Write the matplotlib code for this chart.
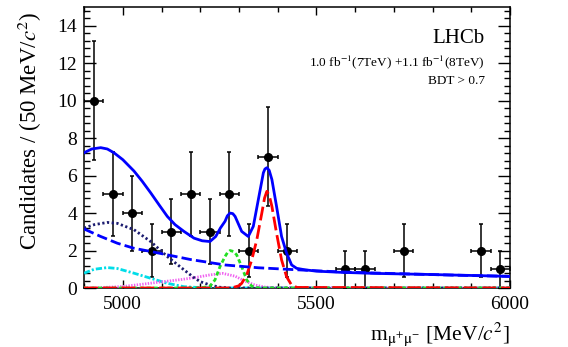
import numpy as np
import matplotlib
matplotlib.use('Agg')
import matplotlib.pyplot as plt
from matplotlib.ticker import MultipleLocator

plt.rcParams['font.family'] = ['Liberation Serif', 'DejaVu Serif']
plt.rcParams['mathtext.fontset'] = 'stix'
plt.rcParams['lines.scale_dashes'] = False

# data points (bin centres, 50 MeV bins)
centers = [4925, 4975, 5025, 5075, 5125, 5175, 5225, 5275, 5325, 5375, 5425, 5575, 5625, 5725, 5925, 5975]
counts = [10, 5, 4, 2, 3, 5, 3, 5, 2, 7, 2, 1, 1, 2, 2, 1]

# total fit (blue solid)
m_tot = [4900, 4920, 4943, 4960, 4977, 5000, 5029, 5050, 5072, 5095, 5115, 5135, 5158, 5184,
         5205, 5225, 5240, 5252, 5264, 5270, 5277, 5284, 5290, 5307, 5324, 5337, 5350, 5363,
         5367, 5372, 5378, 5385, 5397, 5410, 5423, 5436, 5449, 5471, 5500, 5560, 5650, 5775,
         5900, 6000]
y_tot = [7.22, 7.42, 7.49, 7.42, 7.22, 6.85, 6.24, 5.7, 5.08, 4.4, 3.82, 3.38, 3.02, 2.66,
         2.52, 2.48, 2.75, 3.2, 3.56, 3.85, 4.0, 3.97, 3.82, 3.02, 2.75, 3.29, 4.72, 6.15,
         6.35, 6.42, 6.28, 5.79, 4.36, 2.75, 1.86, 1.23, 1.05, 0.97, 0.9, 0.84, 0.78, 0.73,
         0.67, 0.62]

# combinatorial (blue dashed)
m_comb = [4900, 4943, 4986, 5029, 5072, 5115, 5175, 5264, 5350, 5471, 5560, 5700, 5850, 6000]
y_comb = [3.15, 2.75, 2.39, 2.12, 1.95, 1.77, 1.52, 1.23, 1.08, 0.95, 0.86, 0.77, 0.69, 0.62]

# navy dotted
m_part = [4900, 4926, 4960, 4986, 5029, 5072, 5115, 5158, 5184, 5200, 5225, 5251, 5280, 6000]
y_part = [3.2, 3.38, 3.5, 3.45, 3.11, 2.48, 1.68, 0.97, 0.55, 0.34, 0.16, 0.04, 0.0, 0.0]

# cyan dash-dot
m_cyan = [4900, 4926, 4960, 4986, 5029, 5072, 5115, 5158, 5200, 5250, 6000]
y_cyan = [0.79, 1.0, 1.09, 1.04, 0.79, 0.52, 0.25, 0.07, 0.02, 0.0, 0.0]

# magenta dotted
m_mag = [4900, 4950, 5000, 5050, 5100, 5150, 5184, 5225, 5258, 5290, 5316, 5341, 5367, 5400, 6000]
y_mag = [0.0, 0.03, 0.08, 0.2, 0.33, 0.45, 0.55, 0.7, 0.78, 0.63, 0.36, 0.16, 0.05, 0.01, 0.0]

# B0 (green dashed)
m_b0 = [4900, 5200, 5225, 5238, 5251, 5264, 5270, 5277, 5286, 5294, 5307, 5320, 5333, 5350, 6000]
y_b0 = [0.0, 0.0, 0.1, 0.43, 1.14, 1.68, 1.88, 2.0, 1.95, 1.77, 1.14, 0.43, 0.1, 0.0, 0.0]

# Bs (red long dashed)
m_bs = [4900, 5280, 5300, 5307, 5320, 5333, 5346, 5359, 5366, 5372, 5378, 5385, 5397, 5410,
        5423, 5436, 5450, 6000]
y_bs = [0.0, 0.0, 0.12, 0.25, 0.7, 1.5, 2.57, 4.0, 4.8, 5.16, 4.95, 4.36, 2.93, 1.5,
        0.6, 0.15, 0.03, 0.0]

fig = plt.figure(figsize=(5.68, 3.47), dpi=100)
ax = fig.add_axes([0.148, 0.170, 0.750, 0.810])

lw = 2.0
ax.plot(m_cyan, y_cyan, color='#00dde8', lw=lw, dashes=(4.5, 1.5, 1.5, 1.5), zorder=3)
ax.plot(m_mag, y_mag, color='#f060f0', lw=lw, dashes=(1.0, 1.0), zorder=3)
ax.plot(m_part, y_part, color='#1c1c70', lw=lw, dashes=(1.6, 1.8), zorder=3)
ax.plot(m_b0, y_b0, color='#22e022', lw=lw, dashes=(3.0, 2.0), zorder=3)
ax.plot(m_bs, y_bs, color='#ff0000', lw=lw, dashes=(10.0, 3.5), zorder=3)
ax.plot(m_comb, y_comb, color='#0000ff', lw=lw, dashes=(7.5, 3.0), zorder=3)
ax.plot(m_tot, y_tot, color='#0000ff', lw=lw, zorder=4)

errs = np.sqrt(counts)
ax.errorbar(centers, counts, yerr=errs, xerr=25, fmt='o', color='black', ms=5.5,
            elinewidth=1.1, capsize=1.5, capthick=1.1, zorder=2)

ax.set_xlim(4900, 6000)
ax.set_ylim(0, 15)
ax.xaxis.set_major_locator(MultipleLocator(500))
ax.xaxis.set_minor_locator(MultipleLocator(100))
ax.yaxis.set_major_locator(MultipleLocator(2))
ax.yaxis.set_minor_locator(MultipleLocator(0.4))
ax.tick_params(which='both', direction='in', top=True, right=True, width=1.0, labelsize=14)
ax.tick_params(axis='y', which='major', length=8.5, pad=5)
ax.tick_params(axis='y', which='minor', length=4.3)
ax.tick_params(axis='x', which='major', length=5.8, pad=6)
ax.tick_params(axis='x', which='minor', length=3.4)
for s in ax.spines.values():
    s.set_linewidth(1.1)

ax.set_ylabel(r'Candidates / (50 MeV/$c^{2}$)', fontsize=16.5)
ax.yaxis.set_label_coords(-0.094, 0.56)
ax.set_xlabel(r'm$_{\mathrm{μ^{+}μ^{-}}}$ [MeV/$c^{2}$]', fontsize=15.5, ha='right', x=1.0)
ax.xaxis.set_label_coords(1.0, -0.115)

ax.text(0.94, 0.887, 'LHCb', transform=ax.transAxes, ha='right', va='center', fontsize=15)
ax.text(0.94, 0.802, r'1.0 fb$^{-1}$(7TeV) +1.1 fb$^{-1}$(8TeV)', transform=ax.transAxes,
        ha='right', va='center', fontsize=9.5)
ax.text(0.94, 0.737, 'BDT > 0.7', transform=ax.transAxes, ha='right', va='center', fontsize=9.5)

fig.savefig('out.png', dpi=100)
